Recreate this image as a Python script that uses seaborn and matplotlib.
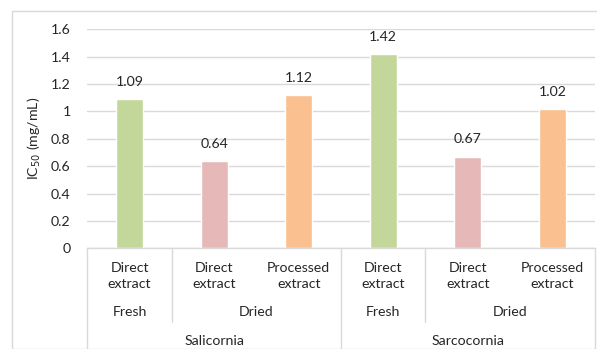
import matplotlib
matplotlib.use("Agg")
import matplotlib.pyplot as plt
from matplotlib.patches import Rectangle
import seaborn as sns
import pandas as pd

# Data
genus = ["Salicornia", "Salicornia", "Salicornia", "Sarcocornia", "Sarcocornia", "Sarcocornia"]
state = ["Fresh", "Dried", "Dried", "Fresh", "Dried", "Dried"]
extract = ["Direct\nextract", "Direct\nextract", "Processed\nextract",
           "Direct\nextract", "Direct\nextract", "Processed\nextract"]
ic50 = [1.09, 0.64, 1.12, 1.42, 0.67, 1.02]
yticks = [0, 0.2, 0.4, 0.6, 0.8, 1, 1.2, 1.4, 1.6]
ytick_labels = ["0", "0.2", "0.4", "0.6", "0.8", "1", "1.2", "1.4", "1.6"]

sns.set_theme(style="white")
plt.rcParams["font.family"] = ["Lato", "DejaVu Sans"]
FS = 10.2

df = pd.DataFrame({"genus": genus, "state": state, "extract": extract, "ic50": ic50})
df["key"] = [f"{g}|{s}|{e}|{i}" for i, (g, s, e) in enumerate(zip(genus, state, extract))]
df["kind"] = [f"{s} {e.split()[0]}" for s, e in zip(state, extract)]

palette = {"Fresh Direct": "#C4D79B", "Dried Direct": "#E6B9B8", "Dried Processed": "#FAC090"}

W, H = 597, 349
fig = plt.figure(figsize=(W / 100, H / 100), dpi=100)

# chart area border
fig.patches.append(Rectangle((12.3 / W, 0), 2, 1 - 11.3 / H, transform=fig.transFigure,
                             fill=False, edgecolor="#D9D9D9", linewidth=1.0, zorder=0))

x0, x1 = 87.3, 594.5
ybot, ytop = 248.3, 29.3
ax = fig.add_axes([x0 / W, 1 - ybot / H, (x1 - x0) / W, (ybot - ytop) / H])

sns.barplot(data=df, x="key", y="ic50", hue="kind", palette=palette, dodge=False,
            width=0.32, ax=ax, legend=False, saturation=1)

ax.set_ylim(0, 1.6)
ax.set_xlim(-0.5, 5.5)
ax.set_yticks(yticks)
ax.set_yticklabels(ytick_labels, fontsize=FS, color="#262626")
ax.tick_params(axis="y", length=0, pad=12)
ax.set_xticks([])
ax.set_xlabel("")
ax.set_ylabel("IC$_{50}$ (mg/mL)", fontsize=FS, color="#262626", labelpad=6)
ax.yaxis.grid(True, color="#D9D9D9", linewidth=1.0)
ax.set_axisbelow(True)
for side in ["top", "right", "left"]:
    ax.spines[side].set_visible(False)
ax.spines["bottom"].set_color("#D9D9D9")
ax.spines["bottom"].set_linewidth(1.0)

# value labels
for i, v in enumerate(ic50):
    ax.annotate(f"{v:.2f}", (i, v), xytext=(0, 8), textcoords="offset points",
                ha="center", va="bottom", fontsize=FS, color="#262626")

# multi-level category axis
ph = ybot - ytop  # pixel height of plot area
def yax(py):
    return (ybot - py) / ph

trans = ax.get_xaxis_transform()
line_kw = dict(color="#D9D9D9", linewidth=1.0, clip_on=False, transform=trans)

for i, e in enumerate(extract):
    ax.text(i, yax(276), e, ha="center", va="center", fontsize=FS, color="#262626",
            linespacing=1.45, transform=trans)

groups = [(0, 0, "Fresh"), (1, 2, "Dried"), (3, 3, "Fresh"), (4, 5, "Dried")]
for a, b, s in groups:
    ax.text((a + b) / 2, yax(312), s, ha="center", va="center", fontsize=FS,
            color="#262626", transform=trans)

for a, b, g in [(0, 2, "Salicornia"), (3, 5, "Sarcocornia")]:
    ax.text((a + b) / 2, yax(341), g, ha="center", va="center", fontsize=FS,
            color="#262626", transform=trans)

# separators
for xs in [-0.5, 2.5, 5.5]:
    ax.plot([xs, xs], [0, yax(360)], **line_kw)
for xs in [0.5, 3.5]:
    ax.plot([xs, xs], [0, yax(322)], **line_kw)

fig.savefig("out.png", dpi=100)
